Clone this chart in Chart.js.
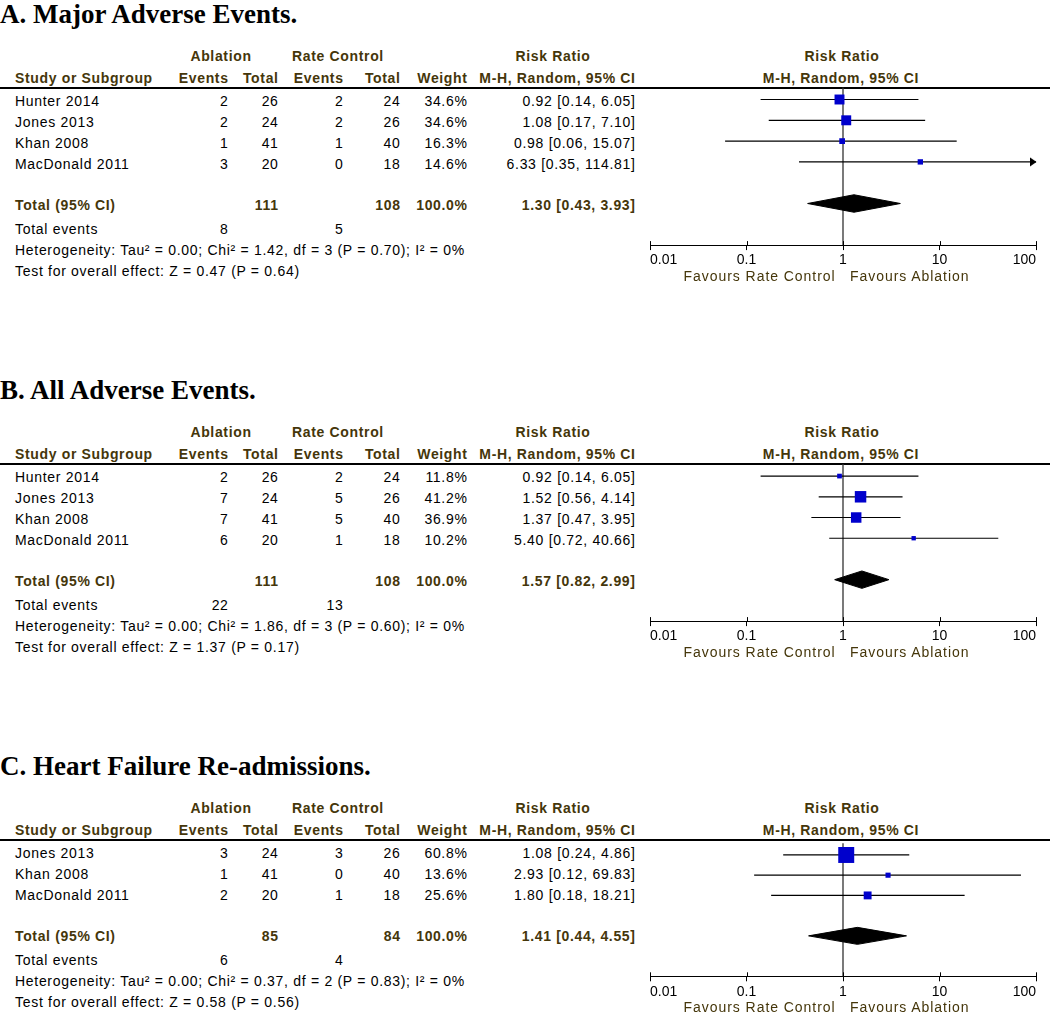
<!DOCTYPE html>
<html><head><meta charset="utf-8">
<script src="https://cdn.jsdelivr.net/npm/chart.js@4"></script>
<style>
html,body{margin:0;padding:0;background:#fff;}
body{width:1050px;height:1015px;position:relative;overflow:hidden;font-family:"Liberation Sans",Arial,sans-serif;}
.t{position:absolute;font-size:14px;line-height:16px;white-space:nowrap;letter-spacing:0.7px;color:#000;}
.h{font-weight:bold;color:#45360a;letter-spacing:0.65px;}
.f{color:#45360a;letter-spacing:0.95px;}
.title{position:absolute;left:0;font-family:"Liberation Serif","Times New Roman",serif;font-weight:bold;font-size:27px;line-height:27px;white-space:nowrap;color:#000;}
.rule{position:absolute;left:0;width:1050px;height:2px;background:#000;}
canvas{position:absolute;}
</style></head><body>
<script>
// ---------- data ----------
const panelTitles = ["A. Major Adverse Events.", "B. All Adverse Events.", "C. Heart Failure Re-admissions."];
const tickValues = [0.01, 0.1, 1, 10, 100];
const tickLabels = ["0.01", "0.1", "1", "10", "100"];

// Panel A
const studiesA = ["Hunter 2014", "Jones 2013", "Khan 2008", "MacDonald 2011"];
const ablEventsA = [2, 2, 1, 3];
const ablTotalA = [26, 24, 41, 20];
const rcEventsA = [2, 2, 1, 0];
const rcTotalA = [24, 26, 40, 18];
const weightA = [34.6, 34.6, 16.3, 14.6];
const rrA = [0.92, 1.08, 0.98, 6.33];
const lowA = [0.14, 0.17, 0.06, 0.35];
const highA = [6.05, 7.10, 15.07, 114.81];
const totalA = [111, 108, 100.0, 1.30, 0.43, 3.93]; // abl total, rc total, weight, rr, low, high
const totalEventsA = [8, 5];
const statsA = ["Heterogeneity: Tau² = 0.00; Chi² = 1.42, df = 3 (P = 0.70); I² = 0%", "Test for overall effect: Z = 0.47 (P = 0.64)"];

// Panel B
const studiesB = ["Hunter 2014", "Jones 2013", "Khan 2008", "MacDonald 2011"];
const ablEventsB = [2, 7, 7, 6];
const ablTotalB = [26, 24, 41, 20];
const rcEventsB = [2, 5, 5, 1];
const rcTotalB = [24, 26, 40, 18];
const weightB = [11.8, 41.2, 36.9, 10.2];
const rrB = [0.92, 1.52, 1.37, 5.40];
const lowB = [0.14, 0.56, 0.47, 0.72];
const highB = [6.05, 4.14, 3.95, 40.66];
const totalB = [111, 108, 100.0, 1.57, 0.82, 2.99];
const totalEventsB = [22, 13];
const statsB = ["Heterogeneity: Tau² = 0.00; Chi² = 1.86, df = 3 (P = 0.60); I² = 0%", "Test for overall effect: Z = 1.37 (P = 0.17)"];

// Panel C
const studiesC = ["Jones 2013", "Khan 2008", "MacDonald 2011"];
const ablEventsC = [3, 1, 2];
const ablTotalC = [24, 41, 20];
const rcEventsC = [3, 0, 1];
const rcTotalC = [26, 40, 18];
const weightC = [60.8, 13.6, 25.6];
const rrC = [1.08, 2.93, 1.80];
const lowC = [0.24, 0.12, 0.18];
const highC = [4.86, 69.83, 18.21];
const totalC = [85, 84, 100.0, 1.41, 0.44, 4.55];
const totalEventsC = [6, 4];
const statsC = ["Heterogeneity: Tau² = 0.00; Chi² = 0.37, df = 2 (P = 0.83); I² = 0%", "Test for overall effect: Z = 0.58 (P = 0.56)"];

// ---------- layout ----------
const panels = [
  {studies: studiesA, ae: ablEventsA, at: ablTotalA, re: rcEventsA, rt: rcTotalA, w: weightA, rr: rrA, lo: lowA, hi: highA, tot: totalA, te: totalEventsA, stats: statsA},
  {studies: studiesB, ae: ablEventsB, at: ablTotalB, re: rcEventsB, rt: rcTotalB, w: weightB, rr: rrB, lo: lowB, hi: highB, tot: totalB, te: totalEventsB, stats: statsB},
  {studies: studiesC, ae: ablEventsC, at: ablTotalC, re: rcEventsC, rt: rcTotalC, w: weightC, rr: rrC, lo: lowC, hi: highC, tot: totalC, te: totalEventsC, stats: statsC}
];
const offsets = [0, 376, 752];
const colAE = 228, colAT = 278, colRE = 343, colRT = 400, colW = 467, colRR = 635;
const FONT = "'Liberation Sans', Arial, sans-serif";

function txt(s, x, y, align, cls) {
  const d = document.createElement('div');
  d.className = 't ' + (cls || '');
  d.textContent = s;
  const w = 320;
  if (align === 'left') { d.style.left = x + 'px'; }
  else if (align === 'right') { d.style.left = (x - w + 0.6) + 'px'; d.style.width = w + 'px'; d.style.textAlign = 'right'; }
  else { d.style.left = (x - w / 2) + 'px'; d.style.width = w + 'px'; d.style.textAlign = 'center'; }
  d.style.top = (y - 8) + 'px';
  document.body.appendChild(d);
}
const f2 = v => v.toFixed(2);
const ci = (r, l, h) => `${f2(r)} [${f2(l)}, ${f2(h)}]`;

// arrow image for CI lines that run past the axis
const arrowImg = document.createElement('canvas');
arrowImg.width = 14; arrowImg.height = 10;
(function(){ const g = arrowImg.getContext('2d'); g.fillStyle = '#000'; g.beginPath(); g.moveTo(1, 0.5); g.lineTo(7.5, 5); g.lineTo(1, 9.5); g.closePath(); g.fill(); })();

const upTicks = {
  id: 'upTicks',
  afterDraw(chart) {
    const s = chart.scales.x, ctx = chart.ctx;
    const y = chart.chartArea.bottom;
    ctx.save(); ctx.strokeStyle = '#000'; ctx.lineWidth = 1;
    s.ticks.forEach(t => {
      const x = Math.round(s.getPixelForValue(t.value)) + 0.5;
      ctx.beginPath(); ctx.moveTo(x, y - 4); ctx.lineTo(x, y); ctx.stroke();
    });
    ctx.restore();
  }
};

panels.forEach((p, k) => {
  const off = offsets[k];
  const n = p.studies.length;
  // title
  const t = document.createElement('div');
  t.className = 'title'; t.textContent = panelTitles[k]; t.style.top = (off + 1) + 'px';
  document.body.appendChild(t);
  // headers
  txt('Ablation', 221, off + 56, 'center', 'h');
  txt('Rate Control', 338, off + 56, 'center', 'h');
  txt('Risk Ratio', 553, off + 56, 'center', 'h');
  txt('Risk Ratio', 842, off + 56, 'center', 'h');
  txt('Study or Subgroup', 15, off + 78, 'left', 'h');
  txt('Events', colAE, off + 78, 'right', 'h');
  txt('Total', colAT, off + 78, 'right', 'h');
  txt('Events', colRE, off + 78, 'right', 'h');
  txt('Total', colRT, off + 78, 'right', 'h');
  txt('Weight', colW, off + 78, 'right', 'h');
  txt('M-H, Random, 95% CI', colRR, off + 78, 'right', 'h');
  txt('M-H, Random, 95% CI', 841, off + 78, 'center', 'h');
  const r = document.createElement('div'); r.className = 'rule'; r.style.top = (off + 86.5) + 'px';
  document.body.appendChild(r);
  // study rows
  for (let i = 0; i < n; i++) {
    const y = off + 101 + 21 * i;
    txt(p.studies[i], 15, y, 'left');
    txt(String(p.ae[i]), colAE, y, 'right');
    txt(String(p.at[i]), colAT, y, 'right');
    txt(String(p.re[i]), colRE, y, 'right');
    txt(String(p.rt[i]), colRT, y, 'right');
    txt(p.w[i].toFixed(1) + '%', colW, y, 'right');
    txt(ci(p.rr[i], p.lo[i], p.hi[i]), colRR, y, 'right');
  }
  const ty = off + 101 + 20.7 * (n + 1);
  txt('Total (95% CI)', 15, ty, 'left', 'h');
  txt(String(p.tot[0]), colAT, ty, 'right', 'h');
  txt(String(p.tot[1]), colRT, ty, 'right', 'h');
  txt(p.tot[2].toFixed(1) + '%', colW, ty, 'right', 'h');
  txt(ci(p.tot[3], p.tot[4], p.tot[5]), colRR, ty, 'right', 'h');
  txt('Total events', 15, ty + 24, 'left');
  txt(String(p.te[0]), colAE, ty + 24, 'right');
  txt(String(p.te[1]), colRE, ty + 24, 'right');
  txt(p.stats[0], 15, ty + 45, 'left');
  txt(p.stats[1], 15, ty + 66, 'left');

  // ---------- forest plot ----------
  const unit = 20.8;
  const totalRow = n + 1;
  const yMin = -0.577, yMax = totalRow + 2.0;
  const padTop = 7.5, axisH = 25;
  const areaH = (yMax - yMin) * unit;
  const H = Math.ceil(padTop + areaH + axisH + 2);
  const padBottom = H - padTop - areaH - axisH;
  const cv = document.createElement('canvas');
  cv.width = 450; cv.height = H;
  cv.style.left = '600px'; cv.style.top = (off + 80) + 'px';
  cv.style.width = '450px'; cv.style.height = H + 'px';
  document.body.appendChild(cv);

  const axisY = off + 80 + padTop + areaH;
  txt('Favours Rate Control', 835, axisY + 31, 'right', 'f');
  txt('Favours Ablation', 850, axisY + 31, 'left', 'f');

  const xMax = tickValues[tickValues.length - 1];
  const datasets = [];
  // squares
  datasets.push({
    data: p.rr.map((v, i) => ({x: v, y: i})),
    pointStyle: 'rect',
    pointRadius: p.w.map(w => (2 + 0.23 * w) / Math.SQRT2),
    backgroundColor: '#0000cc', borderWidth: 0, clip: false
  });
  // arrows
  const arrows = [];
  p.hi.forEach((h, i) => { if (h > xMax) arrows.push({x: xMax, y: i}); });
  if (arrows.length) datasets.push({data: arrows, pointStyle: arrowImg, pointRadius: 5, clip: false});
  // CI lines
  p.lo.forEach((l, i) => {
    datasets.push({
      data: [{x: l, y: i}, {x: Math.min(p.hi[i], xMax), y: i}],
      showLine: true, borderColor: '#000', borderWidth: 1.2, pointRadius: 0, clip: false
    });
  });
  // pooled diamond
  const tr = p.tot[3], tl = p.tot[4], th = p.tot[5], dh = 0.42;
  datasets.push({
    data: [{x: tl, y: totalRow}, {x: tr, y: totalRow - dh}, {x: th, y: totalRow}, {x: tr, y: totalRow + dh}, {x: tl, y: totalRow}],
    showLine: true, fill: 'shape', backgroundColor: '#000', borderColor: '#000', borderWidth: 1, pointRadius: 0, tension: 0, clip: false
  });
  // line of no effect
  datasets.push({
    data: [{x: 1, y: yMin}, {x: 1, y: yMax}],
    showLine: true, borderColor: '#333', borderWidth: 1.3, pointRadius: 0, clip: false
  });

  new Chart(cv, {
    type: 'scatter',
    data: {datasets},
    plugins: [upTicks],
    options: {
      responsive: false, animation: false, events: [],
      layout: {padding: {left: 50, right: 14, top: padTop, bottom: padBottom}},
      plugins: {legend: {display: false}, tooltip: {enabled: false}},
      scales: {
        x: {
          type: 'logarithmic', min: tickValues[0], max: xMax,
          afterBuildTicks: s => { s.ticks = tickValues.map(v => ({value: v, major: true})); },
          afterFit: s => { s.height = axisH; },
          ticks: {callback: (v, i) => tickLabels[i], autoSkip: false, maxRotation: 0, align: 'inner', padding: 2, color: '#000', font: {family: FONT, size: 14}},
          grid: {display: true, drawOnChartArea: false, drawTicks: true, tickLength: 5, color: '#000', lineWidth: 1},
          border: {display: true, color: '#000', width: 1}
        },
        y: {type: 'linear', min: yMin, max: yMax, reverse: true, display: false}
      }
    }
  });
});
</script>
</body></html>
